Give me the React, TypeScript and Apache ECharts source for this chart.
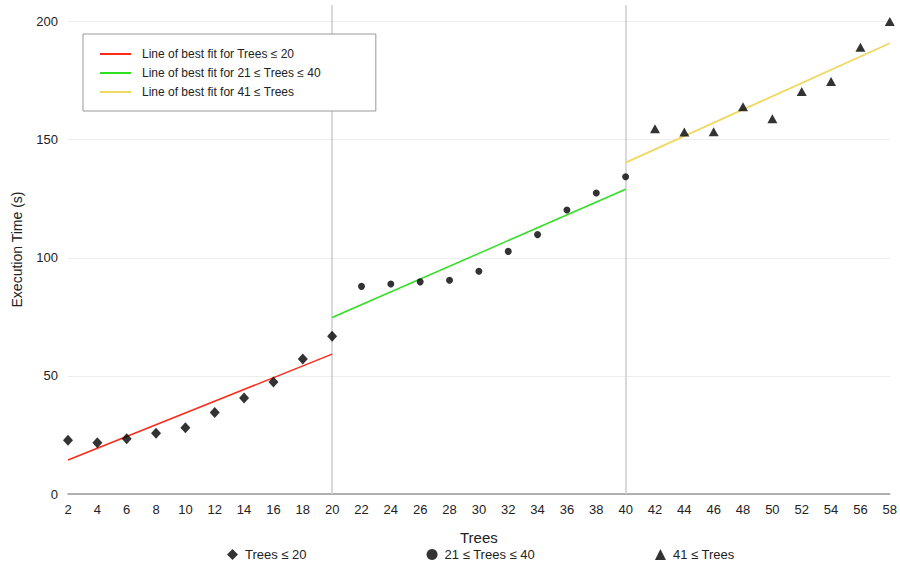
import React, { useEffect, useRef } from "react";
import * as echarts from "echarts";

const groupA_x = [2, 4, 6, 8, 10, 12, 14, 16, 18, 20];
const groupA_y = [22.8, 21.7, 23.4, 25.7, 28.0, 34.5, 40.6, 47.4, 57.1, 66.8];
const groupB_x = [22, 24, 26, 28, 30, 32, 34, 36, 38, 40];
const groupB_y = [87.9, 88.9, 89.8, 90.5, 94.3, 102.7, 109.8, 120.2, 127.4, 134.3];
const groupC_x = [42, 44, 46, 48, 50, 52, 54, 56, 58];
const groupC_y = [154.6, 153.2, 153.3, 163.9, 158.8, 170.4, 174.6, 189.1, 200.0];

const fitA = [[2, 14.4], [20, 59.2]];
const fitB = [[20, 74.7], [40, 129.0]];
const fitC = [[40, 140.3], [58, 190.8]];

const boundaries = [20, 40];

const FONT = "'Liberation Sans', Arial, Helvetica, sans-serif";
const LINE_ICON = "path://M0,0 h31 v2 h-31 Z";

export default function App() {
  const ref = useRef<HTMLDivElement>(null);
  useEffect(() => {
    if (!ref.current) return;
    const chart = echarts.init(ref.current, null, { renderer: "svg" });
    const zip = (xs: number[], ys: number[]) => xs.map((x, i) => [x, ys[i]]);
    chart.setOption({
      animation: false,
      backgroundColor: "#fff",
      textStyle: { fontFamily: FONT },
      grid: { left: 68, right: 9, top: 5, bottom: 71, containLabel: false },
      legend: [
        {
          data: [
            { name: "Line of best fit for Trees ≤ 20", icon: LINE_ICON },
            { name: "Line of best fit for 21 ≤ Trees ≤ 40", icon: LINE_ICON },
            { name: "Line of best fit for 41 ≤ Trees", icon: LINE_ICON },
          ],
          orient: "vertical",
          left: 83,
          top: 34,
          backgroundColor: "#fff",
          borderColor: "#999",
          borderWidth: 1,
          padding: [14, 55, 13, 17],
          itemWidth: 31,
          itemHeight: 12,
          itemGap: 7,
          textStyle: { fontSize: 12, color: "#222", fontFamily: FONT, padding: [0, 0, 0, 6] },
        },
        {
          data: ["Trees ≤ 20", "21 ≤ Trees ≤ 40", "41 ≤ Trees"],
          orient: "horizontal",
          left: 222,
          top: 543,
          itemWidth: 11,
          itemHeight: 11,
          itemGap: 120,
          textStyle: { fontSize: 13, color: "#222", fontFamily: FONT, padding: [0, 0, 0, 2] },
        },
      ],
      xAxis: {
        type: "value",
        min: 2,
        max: 58,
        interval: 2,
        name: "Trees",
        nameLocation: "middle",
        nameGap: 36,
        nameTextStyle: { fontSize: 15, color: "#222", fontFamily: FONT },
        axisLine: { show: true, lineStyle: { color: "#999", width: 1.5 } },
        axisTick: { show: false },
        axisLabel: { fontSize: 13, color: "#222", margin: 9, fontFamily: FONT },
        splitLine: { show: false },
      },
      yAxis: {
        type: "value",
        min: 0,
        max: 207,
        interval: 50,
        name: "Execution Time (s)",
        nameLocation: "middle",
        nameGap: 44,
        nameTextStyle: { fontSize: 14, color: "#222", fontFamily: FONT },
        axisLine: { show: false },
        axisTick: { show: false },
        axisLabel: { fontSize: 13, color: "#222", margin: 10, showMaxLabel: false, fontFamily: FONT },
        splitLine: { show: true, showMaxLine: false, lineStyle: { color: "#eee", width: 1 } },
      },
      series: [
        {
          name: "Line of best fit for Trees ≤ 20",
          type: "line",
          data: fitA,
          symbol: "none",
          lineStyle: { color: "#ff2a1a", width: 1.5 },
          itemStyle: { color: "#ff2a1a" },
          z: 3,
          markLine: {
            silent: true,
            symbol: "none",
            label: { show: false },
            lineStyle: { color: "#ccc", width: 1.5, type: "solid" },
            data: boundaries.map((b) => ({ xAxis: b })),
            z: 1,
          },
        },
        {
          name: "Line of best fit for 21 ≤ Trees ≤ 40",
          type: "line",
          data: fitB,
          symbol: "none",
          lineStyle: { color: "#2ee020", width: 1.5 },
          itemStyle: { color: "#2ee020" },
          z: 3,
        },
        {
          name: "Line of best fit for 41 ≤ Trees",
          type: "line",
          data: fitC,
          symbol: "none",
          lineStyle: { color: "#f0d860", width: 1.8 },
          itemStyle: { color: "#f0d860" },
          z: 3,
        },
        {
          name: "Trees ≤ 20",
          type: "scatter",
          data: zip(groupA_x, groupA_y),
          symbol: "diamond",
          symbolSize: [10, 11],
          itemStyle: { color: "#000" },
          z: 4,
        },
        {
          name: "21 ≤ Trees ≤ 40",
          type: "scatter",
          data: zip(groupB_x, groupB_y),
          symbol: "circle",
          symbolSize: 7,
          itemStyle: { color: "#000" },
          z: 4,
        },
        {
          name: "41 ≤ Trees",
          type: "scatter",
          data: zip(groupC_x, groupC_y),
          symbol: "triangle",
          symbolSize: [10, 9],
          itemStyle: { color: "#000" },
          z: 4,
        },
      ],
    });
    return () => chart.dispose();
  }, []);
  return <div ref={ref} style={{ width: 900, height: 565, position: "absolute", left: 0, top: 0 }} />;
}
